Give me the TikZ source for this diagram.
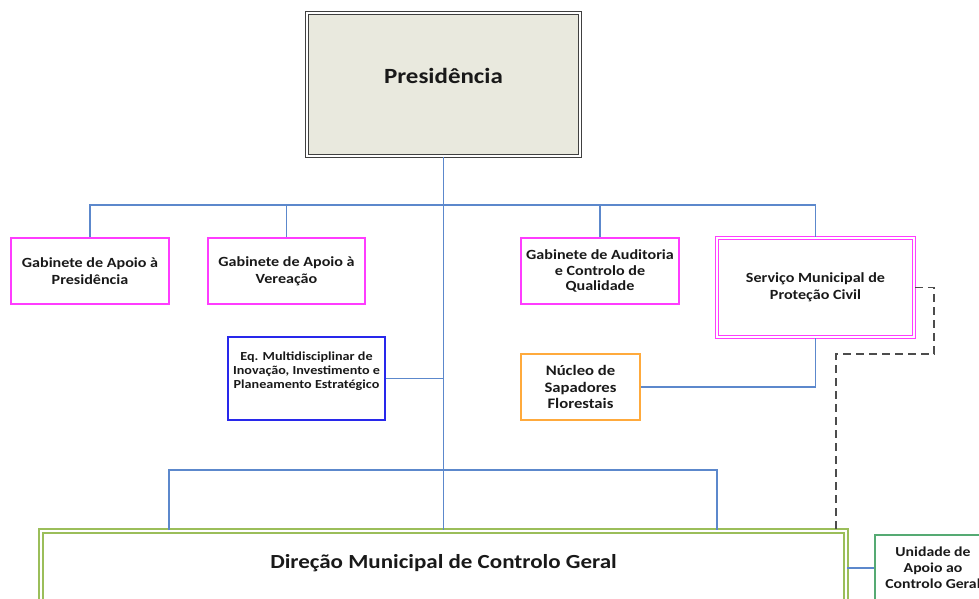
\documentclass[tikz,border=0pt]{standalone}
\usepackage{fontspec}
\setmainfont{Carlito}[FakeStretch=1.15]
\definecolor{linkblue}{RGB}{92,136,204}
\definecolor{gabpink}{RGB}{255,60,255}
\definecolor{eqblue}{RGB}{40,40,235}
\definecolor{nucorange}{RGB}{255,170,60}
\definecolor{dirgreen}{RGB}{155,190,90}
\definecolor{uacgreen}{RGB}{85,170,115}
\definecolor{presfill}{RGB}{233,233,222}
\definecolor{txtdark}{RGB}{25,25,25}

\begin{document}
\begin{tikzpicture}[x=1pt, y=-1pt,
		box/.style={draw, inner sep=0pt, align=center, text=txtdark},
		gab/.style={box, draw=gabpink, line width=1.6pt, font=\bfseries\fontsize{14}{17}\selectfont},
		link/.style={draw=linkblue, line width=1.6pt},
		ctrl/.style={draw=black!70, line width=1.5pt, dash pattern=on 8pt off 5pt}]
	\clip (0, 0) rectangle (979, 599);

	\draw (443.5, 84.5) 	node[box, draw=black!75, fill=presfill, line width=1.6pt, double=white, double distance=1.2pt, minimum width=273, minimum height=143, text depth=18pt, font=\bfseries\fontsize{21.7}{26}\selectfont] 	(pres) 	{Presidência};
	\draw (90, 271) 	node[gab, minimum width=158, minimum height=66] 	(gap) 	{Gabinete de Apoio à\\Presidência};
	\draw (286.5, 271) 	node[gab, minimum width=157, minimum height=66] 	(gav) 	{Gabinete de Apoio à\\Vereação};
	\draw (600, 271) 	node[gab, minimum width=158, minimum height=66, font=\bfseries\fontsize{14}{15.8}\selectfont] 	(gac) 	{Gabinete de Auditoria\\e Controlo de\\Qualidade};
	\draw (815.5, 287.5) 	node[gab, line width=1.5pt, double=white, double distance=1.5pt, minimum width=197, minimum height=99] 	(sm) 	{Serviço Municipal de\\Proteção Civil};
	\draw (306.5, 378.5) 	node[box, draw=eqblue, line width=1.6pt, minimum width=157, minimum height=83, text depth=17pt, font=\bfseries\fontsize{12.3}{14}\selectfont] 	(eq) 	{Eq. Multidisciplinar de\\Inovação, Investimento e\\Planeamento Estratégico};
	\draw (580.5, 387) 	node[box, draw=nucorange, line width=1.6pt, minimum width=119, minimum height=66, font=\bfseries\fontsize{14.5}{16.5}\selectfont] 	(nsf) 	{Núcleo de\\Sapadores\\Florestais};
	\draw (443.5, 568) 	node[box, draw=dirgreen, line width=2pt, double=white, double distance=1.2pt, minimum width=805, minimum height=74, text depth=13pt, font=\bfseries\fontsize{20}{24}\selectfont] 	(dir) 	{Direção Municipal de Controlo Geral};
	\draw (933, 568) 	node[box, draw=uacgreen, line width=1.6pt, minimum width=116, minimum height=66, font=\bfseries\fontsize{13.7}{16}\selectfont] 	(uac) 	{Unidade de\\Apoio ao\\Controlo Geral};

	\coordinate (busL) at (169, 470);
	\coordinate (busR) at (717, 470);
	\coordinate (dk1) at (934, 354);
	\coordinate (dk2) at (836, 354);

	\draw[link] (pres.south) -- (dir.north);
	\draw[link] (gap.north) -- ++(0, -32) -| (sm.north);
	\draw[link] (gav.north) -- ++(0, -32);
	\draw[link] (gac.north) -- ++(0, -32);
	\draw[link] (eq.east) -- (eq.east -| pres.south);
	\draw[link] (nsf.east) -| (sm.south);
	\draw[link] (busL |- dir.north) -- (busL) -- (busR) -- (busR |- dir.north);
	\draw[link] (dir.east) -- (uac.west);
	\draw[ctrl] (sm.east) -| (dk1) -- (dk2) -- (dk2 |- dir.north);
\end{tikzpicture}
\end{document}
